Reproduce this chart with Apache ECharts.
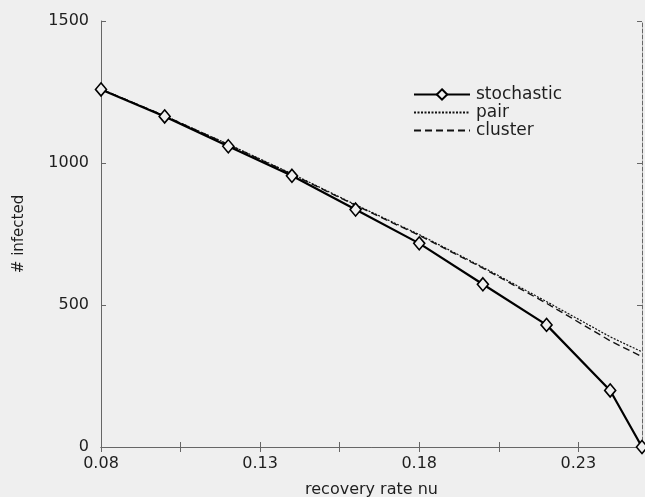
<!DOCTYPE html>
<html>
<head>
<meta charset="utf-8">
<script src="https://cdn.jsdelivr.net/npm/echarts@6/dist/echarts.min.js"></script>
<style>
html,body{margin:0;padding:0;background:#efefef;}
#c{width:645px;height:497px;}
</style>
</head>
<body>
<div id="c"></div>
<script>
const nu = [0.08, 0.10, 0.12, 0.14, 0.16, 0.18, 0.20, 0.22, 0.24, 0.25];
const stochastic = [1259, 1164, 1059, 955, 836, 717, 573, 430, 199, 0];
const pair = [1260, 1166, 1066, 962, 853, 748, 633, 512, 388, 335];
const cluster = [1260, 1166, 1065, 960, 851, 745, 630, 506, 374, 318];
const xTicks = [0.08, 0.105, 0.13, 0.155, 0.18, 0.205, 0.23];
const xLabels = [0.08, 0.13, 0.18, 0.23];
const yTicks = [0, 500, 1000, 1500];

const zip = (a) => nu.map((x, i) => [x, a[i]]);
const font = 'DejaVu Sans, sans-serif';
const axisCol = '#666';
const txt = '#1e1e1e';

const chart = echarts.init(document.getElementById('c'), null, {renderer: 'canvas'});
chart.setOption({
  backgroundColor: '#efefef',
  animation: false,
  grid: {left: 101, right: 3, top: 21, bottom: 50, containLabel: false, outerBoundsMode: 'none'},
  legend: {
    orient: 'vertical', left: 413, top: 86, padding: 0, itemWidth: 56, itemHeight: 13, itemGap: 1,
    textStyle: {fontFamily: font, fontSize: 17, color: txt, padding: [0, 0, 0, 1]},
    data: [
      {name: 'stochastic'},
      {name: 'pair', itemStyle: {opacity: 0}},
      {name: 'cluster', itemStyle: {opacity: 0}}
    ]
  },
  xAxis: [{
    type: 'value', min: 0.08, max: 0.25, position: 'bottom',
    name: 'recovery rate nu', nameLocation: 'middle', nameGap: 35,
    nameTextStyle: {fontFamily: font, fontSize: 16, color: txt},
    axisLine: {lineStyle: {color: axisCol, width: 1}},
    axisTick: {inside: true, length: 5, lineStyle: {color: axisCol}, customValues: xTicks},
    axisLabel: {customValues: xLabels, fontFamily: font, fontSize: 16, color: txt, margin: 9,
      formatter: v => v.toFixed(2)},
    splitLine: {show: false}
  }, {
    type: 'value', min: 0.08, max: 0.25, position: 'top',
    axisLine: {show: true, lineStyle: {color: axisCol, width: 1}},
    axisTick: {show: true, inside: true, length: 5, lineStyle: {color: axisCol}, customValues: xTicks},
    axisLabel: {show: false},
    splitLine: {show: false}
  }],
  yAxis: [{
    type: 'value', min: 0, max: 1500, position: 'left',
    name: '# infected', nameLocation: 'middle', nameGap: 74, nameRotate: 90,
    nameTextStyle: {fontFamily: font, fontSize: 15, color: txt},
    axisLine: {show: true, lineStyle: {color: axisCol, width: 1}},
    axisTick: {show: true, inside: true, length: 5, lineStyle: {color: axisCol}, customValues: yTicks},
    axisLabel: {customValues: yTicks, fontFamily: font, fontSize: 16, color: txt, margin: 12,
      formatter: v => String(v)},
    splitLine: {show: false}
  }, {
    type: 'value', min: 0, max: 1500, position: 'right',
    axisLine: {show: true, lineStyle: {color: axisCol, width: 1, type: 'dashed'}},
    axisTick: {show: true, inside: true, length: 5, lineStyle: {color: axisCol}, customValues: yTicks},
    axisLabel: {show: false},
    splitLine: {show: false}
  }],
  series: [{
    name: 'pair', type: 'line', data: zip(pair), showSymbol: false, symbol: 'none',
    lineStyle: {color: '#111', width: 1.2, type: [2, 1.5]}, itemStyle: {color: '#111'}, z: 2
  }, {
    name: 'cluster', type: 'line', data: zip(cluster), showSymbol: false, symbol: 'none',
    lineStyle: {color: '#111', width: 1.4, type: [7, 4]}, itemStyle: {color: '#111'}, z: 2
  }, {
    name: 'stochastic', type: 'line', data: zip(stochastic),
    symbol: 'diamond', symbolSize: [11, 13],
    lineStyle: {color: '#000', width: 2.2},
    itemStyle: {color: '#efefef', borderColor: '#000', borderWidth: 1.6}, z: 3
  }]
});
</script>
</body>
</html>
